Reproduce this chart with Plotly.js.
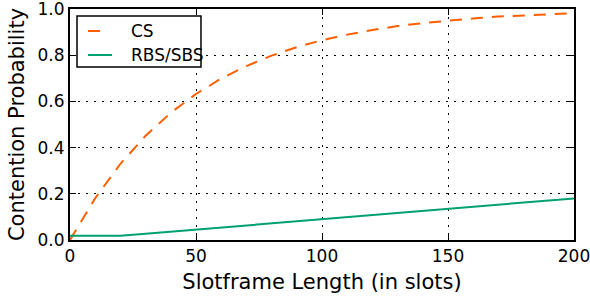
<!DOCTYPE html>
<html><head><meta charset="utf-8">
<script src="https://cdn.plot.ly/plotly-3.0.1.min.js"></script>
<style>body{margin:0;padding:0;background:#fff}#chart{width:590px;height:299px}</style>
</head><body><div id="chart"></div>
<script>
const slotframe = [0,10,20,30,40,50,60,70,80,90,100,110,120,130,140,150,160,170,180,190,200];
const csProb = [0,0.181,0.330,0.451,0.551,0.632,0.699,0.753,0.798,0.835,0.865,0.889,0.909,0.926,0.939,0.950,0.959,0.967,0.973,0.978,0.982];
const rbsProb = [0.018,0.018,0.018,0.027,0.036,0.045,0.054,0.063,0.072,0.081,0.090,0.099,0.108,0.117,0.126,0.135,0.144,0.153,0.162,0.171,0.180];
const seriesNames = ['CS','RBS/SBS'];
const seriesColors = ['#ff5f00','#00a070'];
const seriesDash = ['12px,9px','solid'];
const xTicks = [0,50,100,150,200];
const yTicks = [0,0.2,0.4,0.6,0.8,1.0];
const yTickText = ['0.0','0.2','0.4','0.6','0.8','1.0'];

const font = {family:'DejaVu Sans', size:17, color:'#000'};
const traces = [
  {x:slotframe, y:csProb, name:seriesNames[0], mode:'lines', showlegend:false,
   line:{color:seriesColors[0], width:2, dash:seriesDash[0]}},
  {x:slotframe, y:rbsProb, name:seriesNames[1], mode:'lines', showlegend:false,
   line:{color:seriesColors[1], width:2, dash:seriesDash[1]}}
];
// legend box drawn in paper coordinates (matplotlib-style legend)
const legBox = {x0:0.0139, x1:0.2599, y0:0.749, y1:0.970};
const legRowsY = [0.9048, 0.8009];
const legLineX0 = 0.0357;
const legLineX1 = [0.0595, 0.0833];
const legTextX = 0.1171;
const shapes = [
  {type:'rect', xref:'paper', yref:'paper', x0:legBox.x0, x1:legBox.x1, y0:legBox.y0, y1:legBox.y1,
   fillcolor:'#fff', line:{color:'#000', width:1.5}, layer:'above'}
];
const annotations = [];
seriesNames.forEach((n,i)=>{
  shapes.push({type:'line', xref:'paper', yref:'paper', x0:legLineX0, x1:legLineX1[i],
    y0:legRowsY[i], y1:legRowsY[i], line:{color:seriesColors[i], width:2}, layer:'above'});
  annotations.push({xref:'paper', yref:'paper', x:legTextX, y:legRowsY[i], text:n, showarrow:false,
    xanchor:'left', yanchor:'middle', font:font});
});
const axisCommon = {showline:true, linecolor:'#000', linewidth:2, mirror:'ticks',
  ticks:'inside', ticklen:6, tickwidth:1, tickcolor:'#000',
  showgrid:true, gridcolor:'#000', gridwidth:1, griddash:'1.5px,6.5px', zeroline:false,
  tickfont:font, ticklabeloverflow:'allow'};
const layout = {
  width:590, height:299,
  margin:{l:70, r:16, t:9, b:59},
  paper_bgcolor:'#fff', plot_bgcolor:'#fff',
  font:font,
  showlegend:false,
  shapes:shapes, annotations:annotations,
  xaxis:Object.assign({}, axisCommon, {range:[0,200], tickvals:xTicks,
    title:{text:'Slotframe Length (in slots)', font:{family:'DejaVu Sans', size:21, color:'#000'}, standoff:9}}),
  yaxis:Object.assign({}, axisCommon, {range:[0,1.0], tickvals:yTicks, ticktext:yTickText,
    title:{text:'Contention Probability', font:{family:'DejaVu Sans', size:21, color:'#000'}, standoff:7}})
};
Plotly.newPlot('chart', traces, layout, {displayModeBar:false, staticPlot:true});
</script></body></html>
